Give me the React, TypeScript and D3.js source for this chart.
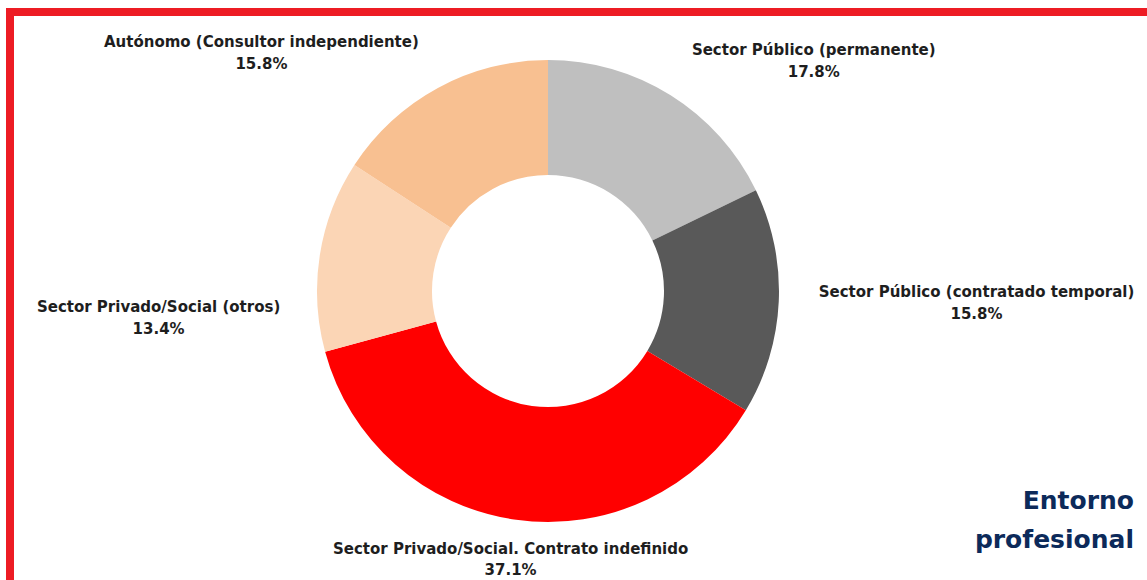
import { useRef, useEffect } from 'react';
import * as d3 from 'd3';

const labels = [
    'Sector Público (permanente)',
    'Sector Público (contratado temporal)',
    'Sector Privado/Social. Contrato indefinido',
    'Sector Privado/Social (otros)',
    'Autónomo (Consultor independiente)',
];
const values = [17.8, 15.8, 37.1, 13.4, 15.8];
const colors = ['#bfbfbf', '#595959', '#ff0000', '#fbd5b5', '#f8c091'];
const titleLines = ['Entorno', 'profesional'];

const DonutChart = () => {
    const ref = useRef(null);

    useEffect(() => {
        const svg = d3.select(ref.current);
        svg.selectAll('*').remove();

        const width = 1147;
        const height = 580;
        const cx = 548;
        const cy = 291;
        const outerR = 231;
        const innerR = 116;

        // red frame, runs off the right and bottom edges
        svg.append('rect')
            .attr('x', 10)
            .attr('y', 12)
            .attr('width', width + 100)
            .attr('height', height + 100)
            .attr('fill', 'none')
            .attr('stroke', '#ed1c24')
            .attr('stroke-width', 8);

        const data = labels.map((label, i) => ({ label, value: values[i], color: colors[i] }));

        const pie = d3.pie()
            .value(d => d.value)
            .sort(null);

        const arc = d3.arc()
            .innerRadius(innerR)
            .outerRadius(outerR);

        const g = svg.append('g')
            .attr('transform', `translate(${cx},${cy})`);

        const arcs = pie(data);

        g.selectAll('path')
            .data(arcs)
            .enter().append('path')
            .attr('d', arc)
            .attr('fill', d => d.data.color);

        // labels placed outside the ring, Excel style (small manual nudges)
        const nudgeY = [1, 0, 0, 65, 1];
        const lineH = 21.5;
        const boxH = 38;
        arcs.forEach((a, i) => {
            const mid = (a.startAngle + a.endAngle) / 2;
            const s = Math.sin(mid);
            const c = Math.cos(mid);
            const px = (outerR + 40) * s;
            const py = -(outerR + 20) * c;
            const anchor = s > 0.3 ? 'start' : s < -0.3 ? 'end' : 'middle';
            let top;
            if (c > 0.5) top = py - boxH;
            else if (c < -0.5) top = py;
            else top = py - boxH / 2;
            top += nudgeY[i];

            const t = g.append('text')
                .attr('font-family', 'DejaVu Sans, sans-serif')
                .attr('font-weight', 'bold')
                .attr('font-size', 15)
                .attr('fill', '#1e1e1e');

            const first = t.append('tspan')
                .attr('x', px)
                .attr('y', top + 14)
                .attr('text-anchor', anchor)
                .text(a.data.label);

            // second line centred under the first
            const w = first.node().getComputedTextLength();
            const centre = anchor === 'start' ? px + w / 2 : anchor === 'end' ? px - w / 2 : px;
            t.append('tspan')
                .attr('x', centre)
                .attr('y', top + 14 + lineH)
                .attr('text-anchor', 'middle')
                .text(`${a.data.value.toFixed(1)}%`);
        });

        svg.append('g')
            .selectAll('text')
            .data(titleLines)
            .enter().append('text')
            .attr('x', 1134)
            .attr('y', (d, i) => 509 + i * 39)
            .attr('text-anchor', 'end')
            .attr('font-family', 'DejaVu Sans, sans-serif')
            .attr('font-weight', 'bold')
            .attr('font-size', 25)
            .attr('fill', '#0c2a5a')
            .text(d => d);
    }, []);

    return (
        <svg
            ref={ref}
            width={1147}
            height={580}
            style={{ position: 'fixed', left: 0, top: 0, background: '#fff' }}
        ></svg>
    );
};

export default function App() {
    return <DonutChart />;
}
